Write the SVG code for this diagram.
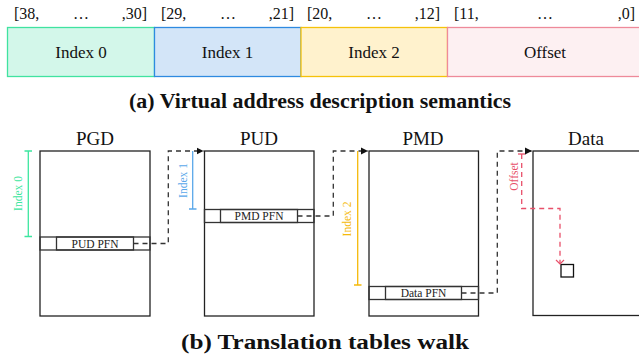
<svg xmlns="http://www.w3.org/2000/svg" width="639" height="360" viewBox="0 0 639 360">
<defs>
<style>
.lbl{font-family:"Liberation Serif",serif;fill:#111;}
.bits{font-size:16px;}
.fld{font-size:17px;text-anchor:middle;}
.ttl{font-size:19px;text-anchor:middle;}
.cap{font-size:20.5px;font-weight:bold;text-anchor:middle;}
.pfn{font-size:11.5px;text-anchor:middle;fill:#222;}
.rot{font-family:"Liberation Serif",serif;font-size:11.5px;text-anchor:middle;}
.table{fill:#fff;stroke:#222;stroke-width:1.3;}
.row{fill:none;stroke:#333;stroke-width:1.3;}
.conn{fill:none;stroke:#333;stroke-width:1.3;stroke-dasharray:5,4;}
</style>
<marker id="arr" markerWidth="8" markerHeight="8" refX="7" refY="4" orient="auto" markerUnits="userSpaceOnUse">
<path d="M0,0.5 L7,4 L0,7.5 Z" fill="#111"/>
</marker>
<marker id="arrRed" markerWidth="10" markerHeight="10" refX="5" refY="5" orient="auto" markerUnits="userSpaceOnUse">
<path d="M1,1 L5,5 L1,9" fill="none" stroke="#e8506a" stroke-width="1.2"/>
</marker>
</defs>

<g id="address">
<g id="field-index0">
<rect x="7.5" y="27.5" width="147" height="49" fill="#d3f7ea" stroke="#40e3a0" stroke-width="1.3"/>
<text class="lbl fld" x="81" y="58">Index 0</text>
<text class="lbl bits" x="14" y="18.5">[38,</text>
<text class="lbl bits" x="81" y="18.5" text-anchor="middle">…</text>
<text class="lbl bits" x="147" y="18.5" text-anchor="end">,30]</text>
</g>
<g id="field-index1">
<rect x="154.5" y="27.5" width="146.5" height="49" fill="#d3e5f8" stroke="#2e8ae0" stroke-width="1.3"/>
<text class="lbl fld" x="227.5" y="58">Index 1</text>
<text class="lbl bits" x="161" y="18.5">[29,</text>
<text class="lbl bits" x="228" y="18.5" text-anchor="middle">…</text>
<text class="lbl bits" x="294" y="18.5" text-anchor="end">,21]</text>
</g>
<g id="field-index2">
<rect x="301" y="27.5" width="146.5" height="49" fill="#fff2cd" stroke="#f5c20a" stroke-width="1.3"/>
<text class="lbl fld" x="374" y="58">Index 2</text>
<text class="lbl bits" x="307" y="18.5">[20,</text>
<text class="lbl bits" x="374" y="18.5" text-anchor="middle">…</text>
<text class="lbl bits" x="440" y="18.5" text-anchor="end">,12]</text>
</g>
<g id="field-offset">
<rect x="447.5" y="27.5" width="195" height="49" fill="#fdf0f2" stroke="#ee8a9a" stroke-width="1.3"/>
<text class="lbl fld" x="545" y="58">Offset</text>
<text class="lbl bits" x="454" y="18.5">[11,</text>
<text class="lbl bits" x="545" y="18.5" text-anchor="middle">…</text>
<text class="lbl bits" x="635" y="18.5" text-anchor="end">,0]</text>
</g>
</g>

<text class="lbl cap" x="320" y="108" textLength="382" lengthAdjust="spacingAndGlyphs">(a) Virtual address description semantics</text>

<g id="pgd">
<text class="lbl ttl" x="95" y="145">PGD</text>
<rect class="table" x="40" y="151" width="110" height="165"/>
<rect class="row" x="40" y="237" width="110" height="13"/>
<rect class="row" x="56.5" y="237" width="77" height="13"/>
<text class="lbl pfn" x="95" y="247.5">PUD PFN</text>
</g>

<g id="pud">
<text class="lbl ttl" x="259" y="145">PUD</text>
<rect class="table" x="204.5" y="151" width="109.5" height="165"/>
<rect class="row" x="204.5" y="209.5" width="109.5" height="13"/>
<rect class="row" x="220.5" y="209.5" width="77" height="13"/>
<text class="lbl pfn" x="259" y="220">PMD PFN</text>
</g>

<g id="pmd">
<text class="lbl ttl" x="423" y="145">PMD</text>
<rect class="table" x="369" y="151" width="109.5" height="165"/>
<rect class="row" x="369" y="286.5" width="109.5" height="13"/>
<rect class="row" x="385.5" y="286.5" width="76" height="13"/>
<text class="lbl pfn" x="423.5" y="297">Data PFN</text>
</g>

<g id="data">
<text class="lbl ttl" x="586" y="145">Data</text>
<rect class="table" x="533" y="151" width="110" height="164.5"/>
<rect x="561" y="264.5" width="12.5" height="12.5" fill="#fff" stroke="#111" stroke-width="1.3"/>
</g>

<g id="brackets">
<g stroke="#3de6a0" stroke-width="1.3" fill="none">
<path d="M28.3,151 V236.5 M24.5,151 H32 M24.5,236.5 H32"/>
</g>
<text class="rot" transform="translate(22,193.5) rotate(-90)" fill="#3de6a0">Index 0</text>
<g stroke="#5aa8ea" stroke-width="1.3" fill="none">
<path d="M192.7,151 V209 M189,209 H196.5"/>
</g>
<text class="rot" transform="translate(186.5,180.5) rotate(-90)" fill="#5aa8ea">Index 1</text>
<g stroke="#f5b90a" stroke-width="1.3" fill="none">
<path d="M357.7,151 V285 M354,285 H361.5"/>
</g>
<text class="rot" transform="translate(350.5,219) rotate(-90)" fill="#f5b90a">Index 2</text>
<g stroke="#e8506a" stroke-width="1.3" fill="none">
<path d="M518,154 H525.5"/>
<path d="M521.7,154 V208.5 H560 V264" stroke-dasharray="5,4" marker-end="url(#arrRed)"/>
</g>
<text class="rot" transform="translate(518,176.5) rotate(-90)" fill="#e8506a">Offset</text>
</g>

<g id="connectors">
<path class="conn" d="M133.5,243.5 H168.3 V151 H203.5" marker-end="url(#arr)"/>
<path class="conn" d="M297.5,216 H333.3 V151 H368" marker-end="url(#arr)"/>
<path class="conn" d="M461.5,293 H497.3 V151 H532" marker-end="url(#arr)"/>
</g>

<text class="lbl cap" x="325" y="348.5" textLength="288" lengthAdjust="spacingAndGlyphs">(b) Translation tables walk</text>
</svg>
